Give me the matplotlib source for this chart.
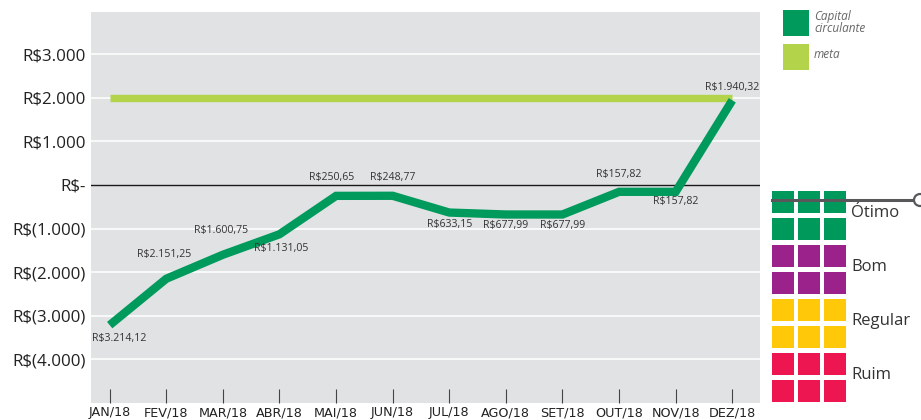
import matplotlib
matplotlib.use("Agg")
import matplotlib.pyplot as plt
from matplotlib.patches import Rectangle, Circle

# Capital circulante 2018 (R$ mil), meta fixa
meses = ["JAN/18", "FEV/18", "MAR/18", "ABR/18", "MAI/18", "JUN/18",
         "JUL/18", "AGO/18", "SET/18", "OUT/18", "NOV/18", "DEZ/18"]
capital = [-3214.12, -2151.25, -1600.75, -1131.05, -250.65, -248.77,
           -633.15, -677.99, -677.99, -157.82, -157.82, 1940.32]
meta = [2000] * 12
y_ticks = [3000, 2000, 1000, 0, -1000, -2000, -3000, -4000]

faixas = ["Ótimo", "Bom", "Regular", "Ruim"]
faixa_cores = ["#00995c", "#9b228a", "#ffc90a", "#ee1651"]

VERDE = "#009a5c"
META = "#b3d34b"
FUNDO = "#e1e2e4"
TEXTO = "#333333"

# label offsets in pixels (dx, dy) relative to each point
offsets = [(10, -13), (-2, 24), (-2, 24), (2, -14), (-4, 18), (0, 18),
           (0, -12), (0, -11), (0, -11), (0, 17), (0, -10), (0, 13)]


def brl(v):
    if v == 0:
        return "R$-"
    s = f"{abs(v):,.0f}".replace(",", ".")
    return f"R${s}" if v > 0 else f"R$({s})"


def brl_dec(v):
    s = f"{abs(v):,.2f}".replace(",", "X").replace(".", ",").replace("X", ".")
    return "R$" + s


W, H = 921, 420
fig = plt.figure(figsize=(W / 100, H / 100), dpi=100)
fig.patch.set_facecolor("white")

ax = fig.add_axes([91 / W, 17 / H, (760 - 91) / W, (408 - 17) / H])
ax.set_facecolor(FUNDO)
for s in ax.spines.values():
    s.set_visible(False)

x = list(range(len(meses)))
ax.set_xlim(-0.33, 11.49)
ax.set_ylim(-5000, 3965)

for t in y_ticks:
    if t == 0:
        ax.axhline(0, color="#1a1a1a", lw=1.0, zorder=1)
    else:
        ax.axhline(t, color="white", lw=1.1, zorder=1)

ax.plot(x, meta, color=META, lw=5.3, solid_capstyle="butt", zorder=3)
ax.plot(x, capital, color=VERDE, lw=6.0, solid_capstyle="butt",
        solid_joinstyle="miter", zorder=4)

for xi, v, (dx, dy) in zip(x, capital, offsets):
    ax.annotate(brl_dec(v), (xi, v), xytext=(dx * 0.72, dy * 0.72),
                textcoords="offset points", ha="center", va="center",
                fontsize=7.6, color=TEXTO, family=["Open Sans", "DejaVu Sans"],
                zorder=5)

ax.set_yticks(y_ticks)
ax.set_yticklabels([brl(t) for t in y_ticks], fontsize=12.2,
                   family=["Open Sans", "DejaVu Sans"], color="#222222")
ax.tick_params(axis="y", length=0, pad=4)

ax.set_xticks(x)
ax.set_xticklabels(meses, fontsize=9.2, color="#222222",
                   family=["Liberation Sans Narrow", "DejaVu Sans"])
ax.tick_params(axis="x", direction="in", length=10, width=0.8,
               color="#444444", pad=2.5)

# right-hand panel: legend and rating scale
ov = fig.add_axes([0, 0, 1, 1], facecolor="none")
ov.set_xlim(0, W)
ov.set_ylim(H, 0)
ov.axis("off")

ov.add_patch(Rectangle((783, 10), 26, 26, color=VERDE, lw=0))
ov.add_patch(Rectangle((783, 44), 26, 26, color=META, lw=0))
ov.text(814, 22.5, "Capital\ncirculante", fontsize=8.5, style="italic",
        color="#666666", va="center", linespacing=0.85,
        family=["Open Sans", "DejaVu Sans"])
ov.text(814, 55, "meta", fontsize=8.5, style="italic", color="#666666",
        va="center", family=["Open Sans", "DejaVu Sans"])

for i, (nome, cor) in enumerate(zip(faixas, faixa_cores)):
    for r in range(2):
        for c in range(3):
            ov.add_patch(Rectangle((772 + c * 26, 191 + (2 * i + r) * 27),
                                   22, 22, color=cor, lw=0))
    ov.text(851, 213 + i * 54, nome, fontsize=12, color=TEXTO,
            va="center", family=["Open Sans", "DejaVu Sans"])

ov.plot([772, 914], [200, 200], color="#58585a", lw=2.2, zorder=6)
ov.add_patch(Circle((920, 200), 6, facecolor="white", edgecolor="#58585a",
                    lw=1.6, zorder=7))

fig.savefig("out.png", dpi=100)
